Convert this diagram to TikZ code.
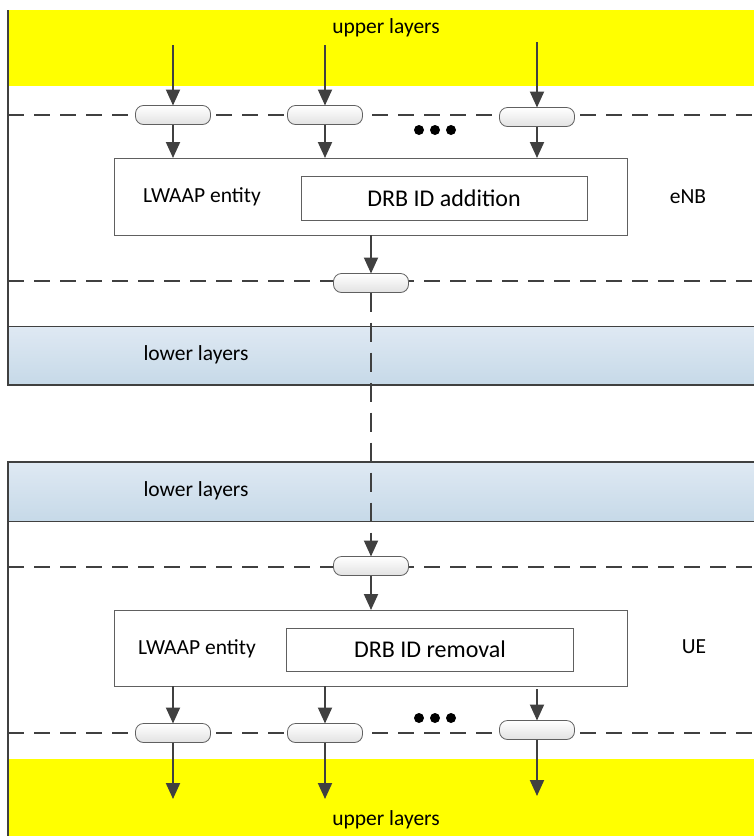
\documentclass[tikz,border=0pt]{standalone}
\usepackage{fontspec}
\setmainfont{Carlito}
\usetikzlibrary{arrows.meta}
\definecolor{ink}{HTML}{404040}
\definecolor{capedge}{HTML}{606060}
\definecolor{capgray}{HTML}{E2E2E2}
\definecolor{boxedge}{HTML}{606060}
\definecolor{lowtop}{HTML}{DFE9F3}
\definecolor{lowbot}{HTML}{C6D9E8}
\definecolor{upyel}{HTML}{FFFF00}
\begin{document}
\begin{tikzpicture}[x=1pt,y=-1pt,
  every node/.style={inner sep=0pt, outer sep=0pt},
  lbl/.style={font=\fontsize{21.5}{25}\selectfont},
  big/.style={font=\fontsize{24}{28}\selectfont},
  capsule/.style={draw=capedge, line width=0.8pt, rounded corners=8pt, minimum width=75pt, minimum height=19pt, top color=white, bottom color=capgray},
  flow/.style={draw=ink, line width=2pt, -{Triangle[length=16pt,width=14pt]}},
  dashln/.style={draw=ink, line width=2.2pt, dash pattern=on 16pt off 10pt},
  vdash/.style={draw=ink, line width=2pt, dash pattern=on 19pt off 11pt, -{Triangle[length=16pt,width=14pt]}},
  frame/.style={draw=ink, line width=2.4pt},
  thinln/.style={draw=ink, line width=0.9pt},
  entity/.style={draw=boxedge, line width=0.9pt, fill=white, anchor=north west},
  dot/.style={circle, fill=black, minimum size=10pt},
]
\useasboundingbox (0,0) rectangle (754,836);

% ---------- eNB ----------
\fill[upyel] (8,10) rectangle (754,86);
\shade[top color=lowtop, bottom color=lowbot] (8,326) rectangle (754,385);
\draw[thinln] (8,326) -- (754,326);
\draw[frame] (8,10) -- (8,385) -- (754,385);

\node[lbl] (ulT) at (386,28) {upper layers};
\node[lbl] (llT) at (196,355) {lower layers};

\draw[dashln] (8,115) -- (754,115);
\draw[dashln] (8,281) -- (754,281);

\node[capsule] (a1) at (173,115) {};
\node[capsule] (a2) at (325,115) {};
\node[capsule] (a3) at (537,117) {};
\node[capsule] (m1) at (371,283) {};

\node[dot] (d1) at (419,130) {};
\node[dot] (d2) at (435,130) {};
\node[dot] (d3) at (451,130) {};

\node[entity, minimum width=513pt, minimum height=77pt] (e1) at (114,158) {};
\node[lbl] (e1t) at (202,197) {LWAAP entity};
\node[entity, minimum width=286pt, minimum height=44pt] (e1i) at (301,176) {};
\node[big] (e1it) at (444,198) {DRB ID addition};
\node[lbl] (enb) at (688,197) {eNB};

\coordinate (s1) at (173,45);
\coordinate (s2) at (325,45);
\coordinate (s3) at (537,42);
\draw[flow] (s1) -- (a1.north);
\draw[flow] (s2) -- (a2.north);
\draw[flow] (s3) -- (a3.north);
\draw[flow] (a1.south) -- (a1.south |- e1.north);
\draw[flow] (a2.south) -- (a2.south |- e1.north);
\draw[flow] (a3.south) -- (a3.south |- e1.north);
\draw[flow] (m1.north |- e1.south) -- (m1.north);

% ---------- UE ----------
\fill[upyel] (8,759) rectangle (754,836);
\shade[top color=lowtop, bottom color=lowbot] (8,462) rectangle (754,521);
\draw[thinln] (8,521) -- (754,521);
\draw[frame] (754,462) -- (8,462) -- (8,836);

\node[lbl] (llB) at (196,491) {lower layers};
\node[lbl] (ulB) at (386,820) {upper layers};

\draw[dashln] (8,567) -- (754,567);
\draw[dashln] (8,733) -- (754,733);

\node[capsule] (m2) at (371,566) {};
\node[capsule] (b1) at (173,733) {};
\node[capsule] (b2) at (325,733) {};
\node[capsule] (b3) at (537,730) {};

\node[dot] (f1) at (419,718) {};
\node[dot] (f2) at (435,718) {};
\node[dot] (f3) at (451,718) {};

\node[entity, minimum width=513pt, minimum height=76pt] (e2) at (114,610) {};
\node[lbl] (e2t) at (197,649) {LWAAP entity};
\node[entity, minimum width=287pt, minimum height=43pt] (e2i) at (286,628) {};
\node[big] (e2it) at (430,649) {DRB ID removal};
\node[lbl] (ue) at (694,647) {UE};

\draw[flow] (m2.south) -- (m2.south |- e2.north);
\draw[flow] (b1.north |- e2.south) -- (b1.north);
\draw[flow] (b2.north |- e2.south) -- (b2.north);
\draw[flow] ([yshift=-3pt]b3.north |- e2.south) -- (b3.north);

\coordinate (t1) at (173,799);
\coordinate (t2) at (325,799);
\coordinate (t3) at (537,796);
\draw[flow] (b1.south) -- (t1);
\draw[flow] (b2.south) -- (t2);
\draw[flow] (b3.south) -- (t3);

% link between eNB and UE
\draw[vdash] (m1.south) -- (m2.north);
\end{tikzpicture}
\end{document}
